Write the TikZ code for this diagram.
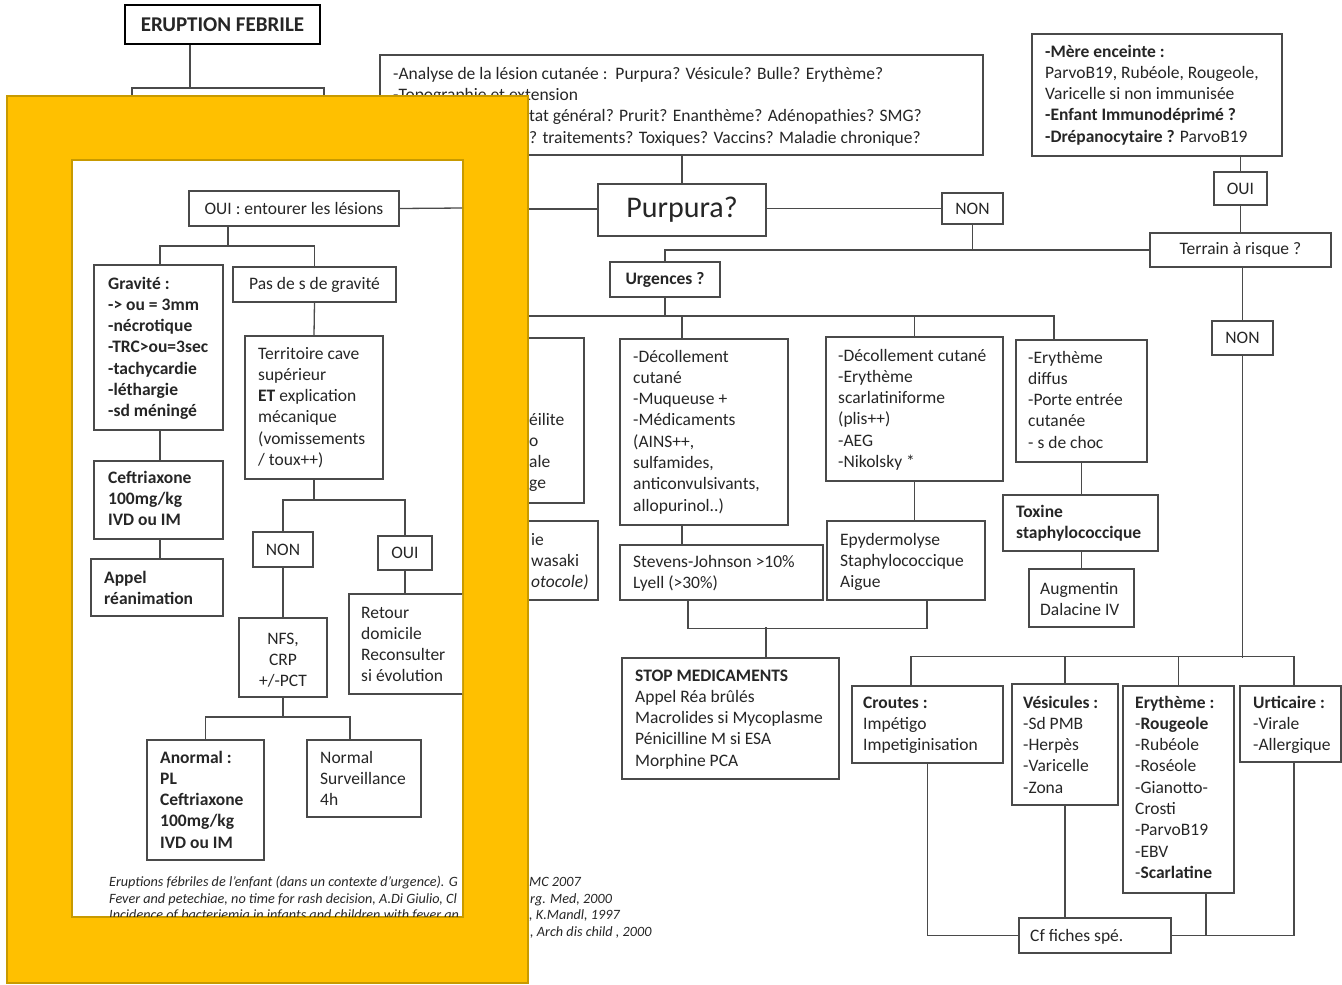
\documentclass[tikz,border=0pt]{standalone}
\usepackage{fontspec}
\setmainfont{Carlito}
\usetikzlibrary{calc}
\definecolor{yel}{HTML}{FFC000}
\definecolor{yelb}{HTML}{C89A00}
\definecolor{ln}{HTML}{4A4A4A}
\definecolor{tc}{HTML}{262626}
\newcommand{\fz}{\fontsize{17.5}{21.3}\selectfont}
\newcommand{\fref}{\fontsize{14.2}{16.5}\selectfont\itshape}
\newcommand{\bx}[7][]{\node[bxs,#1,minimum width={(#5-#3)*1pt},minimum height={(#6-#4)*1pt}] (#2) at ({(#3+#5)/2},{(#4+#6)/2}) {#7};}
\newcommand{\tx}[5][]{\node[txt,anchor=base west,#1] (#2) at (#3,{#4+6}) {\begin{tabular}[t]{@{}l@{}}#5\end{tabular}};}
\newcommand{\txc}[5][]{\node[txt,anchor=base,#1] (#2) at (#3,{#4+6}) {\begin{tabular}[t]{@{}c@{}}#5\end{tabular}};}
\begin{document}
\begin{tikzpicture}[x=1pt,y=-1pt,
  bxs/.style={draw=ln,line width=1.3pt,fill=white,inner sep=0pt,text=tc,font=\fz},
  txt/.style={inner sep=0pt,text=tc,font=\fz},
  cn/.style={draw=ln,line width=1.3pt}]
\useasboundingbox[fill=white] (0,0) rectangle (1342,985);

% ---------------- main diagram ----------------
\bx[line width=2.8pt,draw=black]{erupt}{125}{5}{320}{44}{\bfseries\fontsize{21}{25}\selectfont ERUPTION FEBRILE}
\bx{hid}{132}{88}{324}{160}{}
\draw[cn] (erupt.south -| 190,0) -- (hid.north -| 190,0);

\bx{info}{380}{55}{983}{155}{}
\tx{infot}{393}{73}{-Analyse de la lésion cutanée :~~Purpura? Vésicule? Bulle? Erythème?\\-Topographie et extension}
\tx{infot3}{529}{115}{tat général? Prurit? Enanthème? Adénopathies? SMG?}
\tx{infot4}{529}{137}{? traitements? Toxiques? Vaccins? Maladie chronique?}

\bx{purp}{598}{184}{766}{236}{\fontsize{30}{36}\selectfont Purpura?}
\bx{non1}{942}{193}{1003}{224}{NON}
\bx{mere}{1032}{34}{1282}{156}{}
\tx{meret}{1045}{51}{\textbf{-Mère enceinte :}\\ParvoB19, Rubéole, Rougeole,\\Varicelle si non immunisée\\\textbf{-Enfant Immunodéprimé ?}\\\textbf{-Drépanocytaire ?} ParvoB19}
\bx{oui1}{1214}{172}{1267}{205}{OUI}
\bx{terr}{1150}{233}{1331}{267}{Terrain à risque ?}
\bx{non2}{1212}{321}{1273}{355}{NON}
\bx{urg}{610}{262}{720}{297}{\textbf{Urgences ?}}

\bx{bA}{470}{338}{584}{503}{}
\tx{bAt}{529}{419}{éilite\\o\\ale\\ge}
\bx{bB}{470}{521}{598}{600}{}
\tx{bBt}{531}{539}{ie\\wasaki\\\textit{otocole)}}

\bx{bC}{620}{339}{788}{525}{}
\tx{bCt}{633}{356}{-Décollement\\cutané\\-Muqueuse +\\-Médicaments\\(AINS++,\\sulfamides,\\anticonvulsivants,\\allopurinol..)}
\bx{bD}{826}{337}{1003}{481}{}
\tx{bDt}{838}{355}{-Décollement cutané\\-Erythème\\scarlatiniforme\\(plis++)\\-AEG\\-Nikolsky *}
\bx{bE}{1016}{340}{1147}{462}{}
\tx{bEt}{1028}{357}{-Erythème\\diffus\\-Porte entrée\\cutanée\\- s de choc}
\bx{tox}{1003}{495}{1158}{551}{}
\tx{toxt}{1016}{511}{\textbf{Toxine}\\\textbf{staphylococcique}}
\bx{aug}{1029}{569}{1134}{627}{}
\tx{augt}{1040}{588}{Augmentin\\Dalacine IV}
\bx{epy}{827}{521}{985}{600}{}
\tx{epyt}{840}{539}{Epydermolyse\\Staphylococcique\\Aigue}
\bx{sj}{620}{545}{823}{600}{}
\tx{sjt}{633}{561}{Stevens-Johnson >10\%\\Lyell (>30\%)}
\bx{stop}{622}{658}{839}{779}{}
\tx{stopt}{635}{675}{\textbf{STOP MEDICAMENTS}\\Appel Réa brûlés\\Macrolides si Mycoplasme\\Pénicilline M si ESA\\Morphine PCA}
\bx{cro}{852}{686}{1003}{763}{}
\tx{crot}{863}{702}{\textbf{Croutes :}\\Impétigo\\Impetiginisation}
\bx{ves}{1012}{684}{1118}{805}{}
\tx{vest}{1023}{702}{\textbf{Vésicules :}\\-Sd PMB\\-Herpès\\-Varicelle\\-Zona}
\bx{ery}{1123}{686}{1234}{893}{}
\tx{eryt}{1135}{702}{\textbf{Erythème :}\\-\textbf{Rougeole}\\-Rubéole\\-Roséole\\-Gianotto-\\Crosti\\-ParvoB19\\-EBV\\-\textbf{Scarlatine}}
\bx{urt}{1240}{686}{1341}{762}{}
\tx{urtt}{1253}{702}{\textbf{Urticaire :}\\-Virale\\-Allergique}
\bx{cf}{1019}{918}{1171}{953}{}
\tx{cft}{1030}{935}{Cf fiches spé.}

% connectors
\coordinate (pl) at (500,209);
\coordinate (b1l) at (500,316);
\draw[cn] (info.south -| purp.north) -- (purp.north);
\draw[cn] (purp.west |- pl) -- (pl);
\draw[cn] (purp.east |- non1.west) -- (non1.west);
\draw[cn] (non1.south) -- ++(0,25);
\draw[cn] (urg.north) |- (terr.west);
\draw[cn] (mere.south -| oui1.north) -- (oui1.north);
\draw[cn] (oui1.south) -- (oui1.south |- terr.north);
\draw[cn] (terr.south -| non2.north) -- (non2.north);
\draw[cn] (non2.south) -- ++(0,302);
\draw[cn] ([xshift=-16.5pt]cro.north) -- ++(0,-29) -| ([xshift=3.5pt]urt.north);
\draw[cn] (ves.north) -- ++(0,-27);
\draw[cn] (ery.north) -- ++(0,-29);
\draw[cn] (urg.south) -- ++(0,19);
\draw[cn] (b1l) -| ([xshift=-27.5pt]bE.north);
\draw[cn] ([xshift=-22pt]bC.north) -- ++(0,-23);
\draw[cn] (bD.north) -- ++(0,-21);
\draw[cn] ([xshift=-22pt]bC.south) -- ([xshift=-22pt]bC.south |- sj.north);
\draw[cn] (bD.south) -- (bD.south |- epy.north);
\draw[cn] ([xshift=-33.5pt]sj.south) -- ++(0,28) -| ([xshift=21pt]epy.south);
\draw[cn] ([xshift=35.5pt]stop.north) -- ++(0,-30);
\draw[cn] (bE.south) -- (bE.south |- tox.north);
\draw[cn] (tox.south -| aug.north) -- (aug.north);
\draw[cn] (cro.south) |- (cf.west);
\draw[cn] (ves.south) -- (ves.south |- cf.north);
\draw[cn] (cf.east) -| ([xshift=3.5pt]urt.south);
\draw[cn] ([xshift=27.5pt]ery.south) -- ++(0,41);

% references (right fragments)
\node[txt,font=\fref,anchor=base west] (r1) at (529,886.5) {MC 2007};
\node[txt,font=\fref,anchor=base west] (r2) at (530,903.5) {rg. Med, 2000};
\node[txt,font=\fref,anchor=base west] (r3) at (529,919.5) {, K.Mandl, 1997};
\node[txt,font=\fref,anchor=base west] (r4) at (530,936.5) {, Arch dis child , 2000};

% ---------------- yellow overlay ----------------
\draw[fill=yel,draw=yelb,line width=2pt] (7,96) rectangle (528,983);
\draw[fill=white,draw=yelb,line width=2pt] (72,160) rectangle (463,917);

\begin{scope}
\clip (73,161) rectangle (462,916);
\bx{ouiP}{189}{191}{399}{226}{OUI : entourer les lésions}
\coordinate (pr) at (463,208);
\draw[cn] (ouiP.east) -- (pr);
\bx{grav}{94}{265}{223}{430}{}
\tx{gravt}{108}{283}{\bfseries Gravité :\\\bfseries -> ou = 3mm\\\bfseries -nécrotique\\\bfseries -TRC>ou=3sec\\\bfseries -tachycardie\\\bfseries -léthargie\\\bfseries -sd méningé}
\bx{pas}{233}{267}{396}{302}{Pas de s de gravité}
\bx{ter}{245}{336}{383}{479}{}
\tx{tert}{258}{353}{Territoire cave\\supérieur\\\textbf{ET} explication\\mécanique\\(vomissements\\/ toux++)}
\bx{ceft}{94}{461}{223}{539}{}
\tx{ceftt}{108}{477}{\bfseries Ceftriaxone\\\bfseries 100mg/kg\\\bfseries IVD ou IM}
\bx{app}{91}{559}{223}{616}{}
\tx{appt}{104}{577}{\bfseries Appel\\\bfseries réanimation}
\bx{nonP}{253}{532}{313}{567}{NON}
\bx{ouiP2}{378}{536}{432}{570}{OUI}
\bx{nfs}{239}{618}{327}{697}{}
\txc{nfst}{283}{638}{NFS,\\CRP\\+/-PCT}
\bx{ret}{349}{594}{475}{694}{}
\tx{rett}{361}{612}{Retour\\domicile\\Reconsulter\\si évolution}
\bx{ano}{147}{740}{264}{860}{}
\tx{anot}{160}{757}{\bfseries Anormal :\\\bfseries PL\\\bfseries Ceftriaxone\\\bfseries 100mg/kg\\\bfseries IVD ou IM}
\bx{nor}{307}{740}{421}{817}{}
\tx{nort}{320}{757}{Normal\\Surveillance\\4h}

\draw[cn] ([xshift=-66pt]ouiP.south) -- ++(0,20);
\draw[cn] ([xshift=1.5pt]grav.north) |- (pas.north |- 0,246) -- (pas.north);
\draw[cn] (pas.south) -- (ter.north);
\draw[cn] ([xshift=1.5pt]grav.south) -- ([xshift=1.5pt]grav.south |- ceft.north);
\draw[cn] ([xshift=1.5pt]ceft.south) -- ([xshift=1.5pt]ceft.south |- app.north);
\draw[cn] (ter.south) -- ++(0,21);
\draw[cn] (nonP.north) |- (ouiP2.north |- 0,500) -- (ouiP2.north);
\draw[cn] (nonP.south) -- (nfs.north);
\draw[cn] (ouiP2.south) -- (ouiP2.south |- ret.north);
\draw[cn] (nfs.south) -- ++(0,20);
\draw[cn] (ano.north) |- ([xshift=-14pt]nor.north |- 0,717) -- ([xshift=-14pt]nor.north);

\node[txt,font=\fref,anchor=base west] (refl) at (109,886.5) {\begin{tabular}[t]{@{}l@{}}Eruptions fébriles de l'enfant (dans un contexte d'urgence). G\\Fever and petechiae, no time for rash decision, A.Di Giulio, Cl\\Incidence of bacteriemia in infants and children with fever an\end{tabular}};
\end{scope}
\end{tikzpicture}
\end{document}
